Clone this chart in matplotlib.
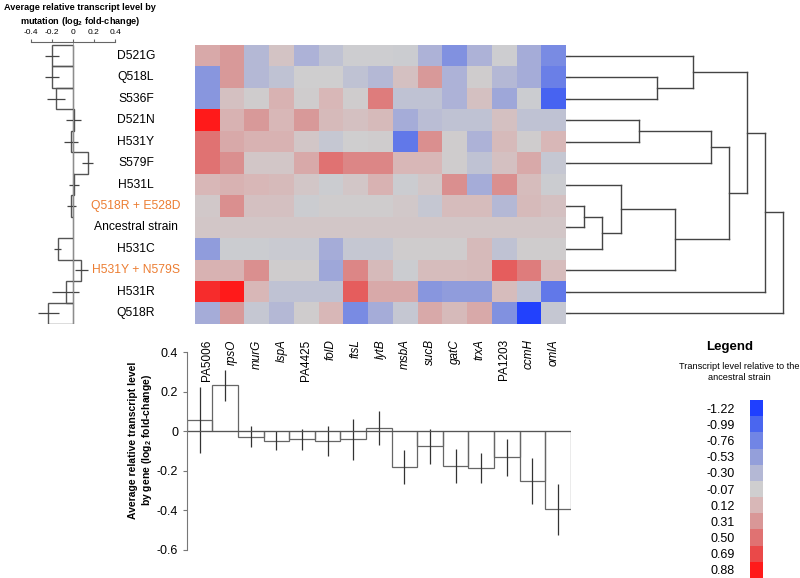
import numpy as np
import matplotlib
matplotlib.use('Agg')
import matplotlib.pyplot as plt
from matplotlib.colors import LinearSegmentedColormap, Normalize
from matplotlib.transforms import blended_transform_factory

plt.rcParams['font.family'] = ['Liberation Sans', 'DejaVu Sans']
plt.rcParams['mathtext.fontset'] = 'custom'
plt.rcParams['mathtext.rm'] = 'Liberation Sans'
plt.rcParams['mathtext.bf'] = 'Liberation Sans:bold'

mutations = ['D521G', 'Q518L', 'S536F', 'D521N', 'H531Y', 'S579F', 'H531L',
             'Q518R + E528D', 'Ancestral strain', 'H531C', 'H531Y + N579S',
             'H531R', 'Q518R']
combos = ['Q518R + E528D', 'H531Y + N579S']
genes = ['PA5006', 'rpsO', 'murG', 'lspA', 'PA4425', 'folD', 'ftsL', 'lytB',
         'msbA', 'sucB', 'gatC', 'trxA', 'PA1203', 'ccmH', 'omlA']

# log2 fold-change per mutation (rows) and gene (columns)
heat = np.array([
    [0.20, 0.30, -0.30, 0.02, -0.35, -0.20, -0.08, -0.08, -0.10, -0.35, -0.65, -0.35, -0.08, -0.40, -0.70],
    [-0.60, 0.30, -0.30, -0.20, -0.07, -0.07, -0.20, -0.30, 0.05, 0.30, -0.35, -0.05, -0.30, -0.40, -0.80],
    [-0.60, 0.05, -0.05, 0.15, -0.05, 0.12, -0.05, 0.45, -0.20, -0.20, -0.35, 0.05, -0.45, -0.10, -1.00],
    [0.88, 0.15, 0.30, 0.12, 0.30, 0.10, 0.05, 0.10, -0.40, -0.25, -0.20, -0.20, 0.05, -0.20, -0.20],
    [0.50, 0.20, 0.15, 0.15, 0.00, -0.15, -0.07, -0.05, -0.85, 0.35, -0.05, -0.35, 0.10, -0.05, 0.12],
    [0.50, 0.35, 0.00, 0.00, 0.20, 0.50, 0.40, 0.40, 0.12, 0.12, -0.05, -0.20, 0.05, 0.20, -0.15],
    [0.12, 0.15, 0.12, 0.10, 0.00, -0.10, 0.00, 0.15, -0.10, 0.00, 0.35, -0.40, 0.35, 0.08, -0.10],
    [-0.02, 0.35, 0.05, 0.05, -0.10, -0.05, -0.05, -0.05, -0.02, -0.15, 0.08, 0.08, -0.30, 0.10, 0.05],
    [0.00, 0.00, 0.00, 0.00, 0.00, 0.00, 0.00, 0.00, 0.00, 0.00, 0.00, 0.00, 0.00, 0.00, 0.00],
    [-0.55, -0.10, -0.10, -0.12, -0.12, -0.40, -0.15, -0.15, -0.05, -0.05, -0.05, 0.10, -0.20, -0.05, -0.05],
    [0.15, 0.15, 0.35, -0.05, -0.05, -0.45, 0.40, 0.10, -0.10, 0.08, 0.08, 0.10, 0.60, 0.45, 0.08],
    [0.80, 0.88, 0.12, -0.20, -0.20, -0.20, 0.60, 0.20, 0.20, -0.60, -0.55, -0.55, 0.08, -0.20, -0.85],
    [-0.40, 0.30, -0.15, -0.30, -0.05, 0.12, -0.70, -0.40, -0.15, 0.20, 0.10, 0.20, -0.65, -1.20, -0.15],
])

mut_mean = [-0.20, -0.20, -0.16, 0.005, -0.02, 0.14, 0.01, -0.015, 0.0, -0.145, 0.08, -0.07, -0.235]
mut_err = [0.07, 0.07, 0.085, 0.07, 0.07, 0.05, 0.045, 0.04, 0.0, 0.035, 0.06, 0.13, 0.10]

gene_mean = [0.057, 0.233, -0.027, -0.047, -0.04, -0.05, -0.04, 0.018, -0.18,
             -0.076, -0.174, -0.187, -0.132, -0.251, -0.393]
gene_err = [0.165, 0.077, 0.052, 0.049, 0.053, 0.075, 0.105, 0.085, 0.086,
            0.09, 0.087, 0.076, 0.094, 0.114, 0.129]

# row clustering: [child a, child b, height]; new nodes numbered from 13
dendro_links = [
    [1, 2, 91], [0, 13, 127], [3, 4, 73], [15, 5, 145],
    [7, 8, 18], [17, 9, 36], [6, 18, 55], [19, 10, 109],
    [16, 20, 163], [14, 21, 181], [22, 11, 199], [23, 12, 217],
]

legend_levels = [-1.22, -0.99, -0.76, -0.53, -0.30, -0.07, 0.12, 0.31, 0.50, 0.69, 0.88]
legend_colors = ['#1f3fff', '#4a66f0', '#7185e6', '#949fdb', '#b4b8d6', '#cfcfd0',
                 '#d8b8b8', '#d99898', '#e07373', '#ea4a4a', '#ff1a1a']

norm = Normalize(legend_levels[0], legend_levels[-1])
cmap = LinearSegmentedColormap.from_list(
    'lvl', [(float(norm(v)), c) for v, c in zip(legend_levels, legend_colors)])

W, H = 800, 578
fig = plt.figure(figsize=(8, 5.78), dpi=100)


def box(x0, y0, x1, y1):
    return [x0 / W, 1 - y1 / H, (x1 - x0) / W, (y1 - y0) / H]


nrow = len(mutations)
rows = np.arange(nrow)

# heatmap
ax_heat = fig.add_axes(box(195, 45, 566, 324))
ax_heat.imshow(heat, cmap=cmap, norm=norm, aspect='auto', interpolation='nearest')
for s in ax_heat.spines.values():
    s.set_visible(False)
ax_heat.set_yticks(rows)
ax_heat.set_yticklabels([])
ax_heat.tick_params(axis='y', left=False, right=True, length=3, color='#666')
ax_heat.set_xticks(np.arange(len(genes)))
ax_heat.set_xticklabels(genes, rotation=90, fontsize=8.5)
ax_heat.tick_params(axis='x', length=0, pad=11)
for lab in ax_heat.get_xticklabels():
    if not lab.get_text().startswith('PA'):
        lab.set_fontstyle('italic')

trans = blended_transform_factory(fig.transFigure, ax_heat.transData)
for i, m in enumerate(mutations):
    col = '#ec7d32' if m in combos else 'black'
    fig.text(136 / W, 0, m, transform=trans, ha='center', va='center',
             fontsize=8.7, color=col, zorder=10).set_y(i)

# left: mean by mutation
ax_mut = fig.add_axes(box(31, 42, 115, 324))
ax_mut.patch.set_visible(False)
ax_mut.barh(rows, mut_mean, height=1, left=0, fill=False, edgecolor='#555', lw=1)
ax_mut.errorbar(mut_mean, rows, xerr=mut_err, fmt='none', ecolor='#444',
                elinewidth=0.9, capsize=0)
ax_mut.axvline(0, color='#999', lw=0.6)
ax_mut.set_xlim(-0.4, 0.4)
ax_mut.set_ylim(nrow - 0.5, -0.5 - 3 / 21.46)
for k in ['left', 'right', 'bottom']:
    ax_mut.spines[k].set_visible(False)
ax_mut.spines['top'].set_color('#666')
ax_mut.xaxis.tick_top()
ax_mut.set_xticks([-0.4, -0.2, 0, 0.2, 0.4])
ax_mut.set_xticklabels(['-0.4', '-0.2', '0', '0.2', '0.4'], fontsize=6)
ax_mut.tick_params(axis='x', length=2.5, pad=2, color='#666')
ax_mut.set_yticks([])
fig.text(80 / W, 1 - 3 / H,
         'Average relative transcript level by\nmutation (log$_{\\mathbf{2}}$ fold-change)',
         ha='center', va='top', fontsize=6.6, fontweight='bold', linespacing=1.3)

# bottom: mean by gene
ax_gene = fig.add_axes(box(186.7, 352.3, 570.7, 550))
ax_gene.patch.set_visible(False)
xg = np.arange(len(genes)) + 0.5
ax_gene.bar(xg, gene_mean, width=1, fill=False, edgecolor='#666', lw=0.9)
ax_gene.errorbar(xg, gene_mean, yerr=gene_err, fmt='none', ecolor='#333',
                 elinewidth=0.9, capsize=0)
ax_gene.axhline(0, color='#555', lw=0.8)
ax_gene.set_xlim(0, len(genes))
ax_gene.set_ylim(-0.6, 0.4)
for k in ['top', 'right', 'bottom']:
    ax_gene.spines[k].set_visible(False)
ax_gene.spines['left'].set_color('#777')
ax_gene.set_xticks([])
ax_gene.set_yticks([0.4, 0.2, 0, -0.2, -0.4, -0.6])
ax_gene.set_yticklabels(['0.4', '0.2', '0', '-0.2', '-0.4', '-0.6'], fontsize=9)
ax_gene.tick_params(axis='y', length=3, color='#777', pad=3)
fig.text(141 / W, 1 - 440 / H,
         'Average relative transcript level\nby gene (log$_{\\mathbf{2}}$ fold-change)',
         rotation=90, ha='center', va='center', fontsize=7.5, fontweight='bold',
         multialignment='center', linespacing=1.2)

# dendrogram of rows
ax_den = fig.add_axes(box(566, 45, 788, 324))
ax_den.patch.set_visible(False)
pos = {i: float(i) for i in range(nrow)}
hgt = {i: 0.0 for i in range(nrow)}
for k, (a, b, h) in enumerate(dendro_links):
    node = nrow + k
    ax_den.plot([hgt[a], h], [pos[a], pos[a]], color='#444', lw=1)
    ax_den.plot([hgt[b], h], [pos[b], pos[b]], color='#444', lw=1)
    ax_den.plot([h, h], [pos[a], pos[b]], color='#444', lw=1)
    pos[node] = (pos[a] + pos[b]) / 2
    hgt[node] = h
ax_den.set_xlim(0, 222)
ax_den.set_ylim(nrow - 0.5, -0.5)
ax_den.axis('off')

# legend
fig.text(730 / W, 1 - 347 / H, 'Legend', ha='center', va='center',
         fontsize=9.5, fontweight='bold')
fig.text(739 / W, 1 - 372 / H, 'Transcript level relative to the\nancestral strain',
         ha='center', va='center', fontsize=6.6, linespacing=1.3)
ax_leg = fig.add_axes(box(750, 400, 763, 578))
ax_leg.imshow(np.array(legend_levels).reshape(-1, 1), cmap=cmap, norm=norm,
              aspect='auto', interpolation='nearest')
for s in ax_leg.spines.values():
    s.set_visible(False)
ax_leg.set_xticks([])
ax_leg.set_yticks(np.arange(len(legend_levels)))
ax_leg.set_yticklabels(['%.2f' % v for v in legend_levels], fontsize=9)
ax_leg.tick_params(axis='y', length=0, pad=11)

fig.savefig('out.png', dpi=100)
